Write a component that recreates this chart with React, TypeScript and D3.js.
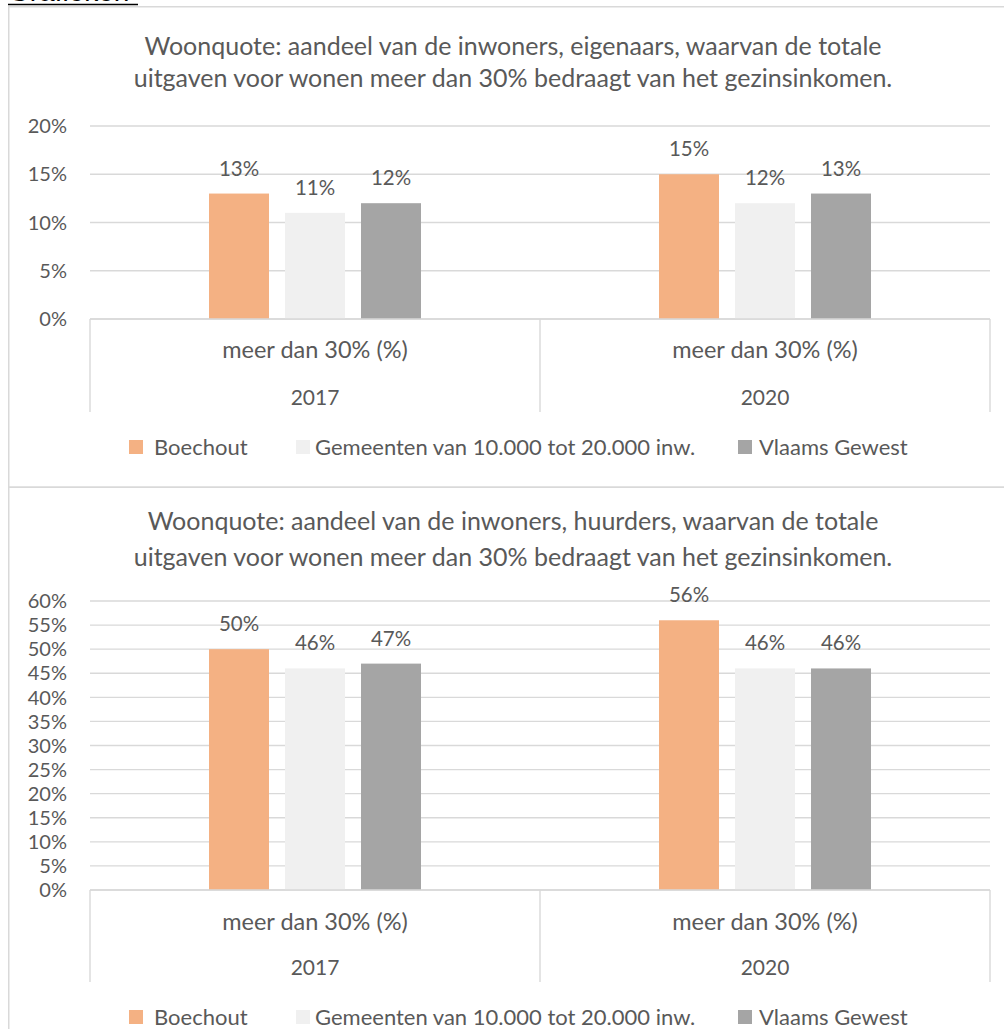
import React from "react";
import * as d3 from "d3";

const categories = ["2017", "2020"];
const categoryLabel = "meer dan 30% (%)";
const seriesNames = ["Boechout", "Gemeenten van 10.000 tot 20.000 inw.", "Vlaams Gewest"];
const seriesColors = ["#F4B183", "#F0F0F0", "#A5A5A5"];

const eigenaarsValues = [
  [13, 11, 12],
  [15, 12, 13],
];
const huurdersValues = [
  [50, 46, 47],
  [56, 46, 46],
];
const eigenaarsTicks = [0, 5, 10, 15, 20];
const huurdersTicks = [0, 5, 10, 15, 20, 25, 30, 35, 40, 45, 50, 55, 60];

const title1 = [
  "Woonquote: aandeel van de inwoners, eigenaars, waarvan de totale",
  "uitgaven voor wonen meer dan 30% bedraagt van het gezinsinkomen.",
];
const title2 = [
  "Woonquote: aandeel van de inwoners, huurders, waarvan de totale",
  "uitgaven voor wonen meer dan 30% bedraagt van het gezinsinkomen.",
];

const FONT = "Lato, 'Open Sans', sans-serif";
const TXT = "#595959";
const GRID = "#D9D9D9";

type ChartProps = {
  titleLines: string[];
  values: number[][];
  ticks: number[];
  yTop: number;
  yBottom: number;
  axisBottom: number;
  labelY1: number;
  labelY2: number;
  legendY: number;
  titleY: number[];
};

function Chart(p: ChartProps) {
  const x = d3.scaleBand<string>().domain(categories).range([90, 990]).padding(0);
  const maxV = p.ticks[p.ticks.length - 1];
  const y = d3.scaleLinear().domain([0, maxV]).range([p.yBottom, p.yTop]);
  const inner = d3
    .scaleBand<string>()
    .domain(seriesNames)
    .range([0, 212])
    .paddingInner(16 / 76)
    .paddingOuter(0);
  const legendSq = [129, 296, 738];
  const legendTx = [154, 315, 759];
  return (
    <g>
      {p.titleLines.map((t, i) => (
        <text key={i} x={513} y={p.titleY[i]} textAnchor="middle" fontSize={25} fill={TXT} fontFamily={FONT}>
          {t}
        </text>
      ))}
      {p.ticks.map((t) => (
        <g key={t}>
          <line x1={90} x2={990} y1={y(t)} y2={y(t)} stroke={GRID} strokeWidth={1.4} />
          <text x={67} y={y(t)} dy="0.36em" textAnchor="end" fontSize={20} fill={TXT} fontFamily={FONT}>
            {t}%
          </text>
        </g>
      ))}
      {categories.map((c, ci) => {
        const x0 = (x(c) as number) + x.bandwidth() / 2 - 106;
        return (
          <g key={c}>
            {seriesNames.map((s, si) => {
              const v = p.values[ci][si];
              const bx = x0 + (inner(s) as number);
              return (
                <g key={s}>
                  <rect x={bx} y={y(v)} width={inner.bandwidth()} height={p.yBottom - y(v)} fill={seriesColors[si]} />
                  <text x={bx + inner.bandwidth() / 2} y={y(v) - 18} textAnchor="middle" fontSize={20.5} fill={TXT} fontFamily={FONT}>
                    {v}%
                  </text>
                </g>
              );
            })}
            <text x={(x(c) as number) + x.bandwidth() / 2} y={p.labelY1} dy="0.36em" textAnchor="middle" fontSize={23.5} fill={TXT} fontFamily={FONT}>
              {categoryLabel}
            </text>
            <text x={(x(c) as number) + x.bandwidth() / 2} y={p.labelY2} dy="0.36em" textAnchor="middle" fontSize={21} fill={TXT} fontFamily={FONT}>
              {c}
            </text>
          </g>
        );
      })}
      <line x1={90} x2={990} y1={p.yBottom} y2={p.yBottom} stroke={GRID} strokeWidth={1.4} />
      {[90, 540, 990].map((vx) => (
        <line key={vx} x1={vx} x2={vx} y1={p.yBottom} y2={p.axisBottom} stroke={GRID} strokeWidth={1.4} />
      ))}
      {seriesNames.map((s, si) => (
        <g key={s}>
          <rect x={legendSq[si]} y={p.legendY - 7} width={14} height={14} fill={seriesColors[si]} />
          <text x={legendTx[si]} y={p.legendY} dy="0.36em" fontSize={22} fill={TXT} fontFamily={FONT}>
            {s}
          </text>
        </g>
      ))}
    </g>
  );
}

export default function App() {
  return (
    <svg
      width={1004}
      height={1029}
      style={{ position: "absolute", left: 0, top: 0, background: "#fff" }}
    >
      <rect x={0} y={0} width={1004} height={1029} fill="#fff" />
      <text x={8} y={1} fontSize={28} fill="#000" fontFamily="'Liberation Sans', Arial, sans-serif">
        Grafieken
      </text>
      <line x1={8} x2={138} y1={4.5} y2={4.5} stroke="#000" strokeWidth={1.6} />
      <rect x={8.75} y={6.75} width={1000} height={480.5} fill="none" stroke={GRID} strokeWidth={1.5} />
      <rect x={8.75} y={487.25} width={1000} height={600} fill="none" stroke={GRID} strokeWidth={1.5} />
      <Chart
        titleLines={title1}
        values={eigenaarsValues}
        ticks={eigenaarsTicks}
        yTop={126}
        yBottom={319}
        axisBottom={412}
        labelY1={350}
        labelY2={397}
        legendY={447}
        titleY={[55, 87]}
      />
      <Chart
        titleLines={title2}
        values={huurdersValues}
        ticks={huurdersTicks}
        yTop={601}
        yBottom={890}
        axisBottom={982}
        labelY1={922}
        labelY2={967}
        legendY={1017}
        titleY={[530, 566]}
      />
    </svg>
  );
}
